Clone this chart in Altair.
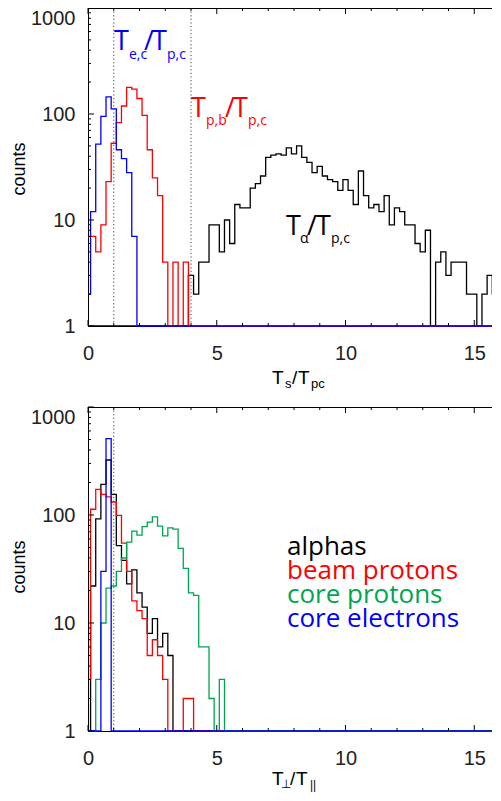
import altair as alt
import pandas as pd

# ---------------- data (histograms, bin width 0.2, bin centres from 0.0) ----------------
BIN_W = 0.2
N_BINS = 81  # centres 0.0 ... 16.0

# top panel: temperature ratios T_s / T_pc
te_start = 0.0
te_counts = [2, 12, 52, 95, 145, 112, 46, 38, 28, 7]                       # T_e,c / T_p,c
tpb_start = 0.0
tpb_counts = [7, 7, 5, 9, 23, 53, 83, 119, 178, 172, 140, 97, 46, 25, 17,
              4, 0, 4, 0, 4]                                                 # T_p,b / T_p,c
ta_start = 4.0
ta_counts = [3, 2, 4, 4, 9, 9, 5, 10, 6, 14,
             13, 13, 20, 22, 26, 39, 41, 42, 41, 48,
             42, 50, 39, 35, 28, 32, 26, 24, 23, 19,
             24, 19, 14, 29, 17, 13, 14, 12, 17, 9,
             13, 12, 9, 9, 6, 5, 8, 0, 4, 5,
             3, 4, 4, 4, 2, 2, 0, 2, 3, 2, 3]                                # T_alpha / T_p,c

# bottom panel: anisotropies T_perp / T_par
alph_start = 0.0
alph_counts = [0, 22, 92, 192, 323, 155, 52, 38, 23, 31, 19, 14, 8, 11, 6, 8, 5]
beam_start = 0.0
beam_counts = [3, 113, 173, 155, 147, 132, 99, 55, 30, 16, 13, 11, 5, 7, 5, 3,
               0, 0, 0, 2, 2]
corep_start = 0.0
corep_counts = [0, 0, 3, 10, 21, 22, 30, 40, 56, 71, 65, 78, 86, 96, 79, 64,
                76, 74, 49, 32, 19, 18, 6, 6, 2, 0, 3]
coree_start = 0.0
coree_counts = [0, 0, 0, 30, 510]

top_dotted = [1, 4]
bottom_dotted = [1]

x_labels = [0, 5, 10, 15]
x_minor = [1, 2, 3, 4, 6, 7, 8, 9, 11, 12, 13, 14]
y_labels = [1, 10, 100, 1000]
y_minor = [2, 3, 4, 5, 6, 7, 8, 9, 20, 30, 40, 50, 60, 70, 80, 90,
           200, 300, 400, 500, 600, 700, 800, 900]

legend_names = ["alphas", "beam protons", "core protons", "core electrons"]

BLACK, RED, GREEN, BLUE = "#000000", "#ff0000", "#00a550", "#0000ff"
AXFONT = "Liberation Sans"
ANNFONT = "Open Sans"

W = 412
H_TOP = 318
H_BOT = 324


def hist_frame(start, counts):
    xs = [round(i * BIN_W, 1) for i in range(N_BINS)]
    full = [0] * N_BINS
    i0 = int(round(start / BIN_W))
    for k, c in enumerate(counts):
        full[i0 + k] = c
    return pd.DataFrame({"x": xs, "count": full})


xscale = alt.Scale(domain=[0, 16], nice=False, zero=False)
yscale = alt.Scale(type="log", domain=[1, 1000], nice=False)

x_axis = alt.Axis(values=x_labels, format="d", title=None, ticks=False, grid=False,
                  domainColor="black", domainWidth=1, labelFont=AXFONT, labelFontSize=20,
                  labelColor="#222222", labelPadding=17, labelFlush=False, labelOverlap=False)
y_axis = alt.Axis(values=y_labels, format="d", title=None, ticks=False, grid=False,
                  domainColor="black", domainWidth=1, labelFont=AXFONT, labelFontSize=20,
                  labelColor="#222222", labelPadding=13, labelOverlap=False,
                  labelBaseline={"condition": {"test": "datum.value >= 999", "value": "top"},
                                 "value": "middle"})


def hist_layer(start, counts, color):
    return (alt.Chart(hist_frame(start, counts))
            .transform_calculate(c1="max(datum.count, 1)")
            .mark_line(interpolate="step", color=color, strokeWidth=1.3, clip=False)
            .encode(x=alt.X("x:Q", scale=xscale, axis=x_axis),
                    y=alt.Y("c1:Q", scale=yscale, axis=y_axis)))


def tick_layers(H):
    out = []
    for vals, ln in ((x_labels, 6), (x_minor, 3)):
        df = pd.DataFrame({"x": vals})
        out.append(alt.Chart(df).mark_rule(color="black", strokeWidth=1).encode(
            x=alt.X("x:Q", scale=xscale, axis=x_axis), y=alt.value(H), y2=alt.value(H - ln)))
        out.append(alt.Chart(df).mark_rule(color="black", strokeWidth=1).encode(
            x=alt.X("x:Q", scale=xscale, axis=x_axis), y=alt.value(0), y2=alt.value(ln)))
    for vals, ln in ((y_labels, 6), (y_minor, 3)):
        df = pd.DataFrame({"y": vals})
        out.append(alt.Chart(df).mark_rule(color="black", strokeWidth=1).encode(
            y=alt.Y("y:Q", scale=yscale, axis=y_axis), x=alt.value(0), x2=alt.value(ln)))
    # top frame line
    out.append(alt.Chart(pd.DataFrame({"a": [0]})).mark_rule(color="black", strokeWidth=1).encode(
        x=alt.value(0), x2=alt.value(W), y=alt.value(0.5)))
    return out


def dotted_layer(vals):
    return alt.Chart(pd.DataFrame({"x": vals})).mark_rule(
        color="#444444", strokeWidth=1, strokeDash=[1.2, 2.4]).encode(
        x=alt.X("x:Q", scale=xscale, axis=x_axis))


def text_layer(rows, font, angle=0, align="left", baseline="alphabetic"):
    df = pd.DataFrame(rows, columns=["t", "px", "py", "fs", "col"])
    return alt.Chart(df).mark_text(font=font, align=align, baseline=baseline, angle=angle).encode(
        x=alt.X("px:Q", scale=None, axis=None),
        y=alt.Y("py:Q", scale=None, axis=None),
        text="t:N",
        size=alt.Size("fs:Q", scale=None, legend=None),
        color=alt.Color("col:N", scale=None, legend=None))


# ---------------- annotations (pixel positions relative to each plot area) ----------------
top_ann = [
    ["T", 26, 42, 27, BLUE], ["e,c", 41, 51, 14, BLUE], ["/", 56, 42, 27, BLUE],
    ["T", 64, 42, 27, BLUE], ["p,c", 79, 51, 14, BLUE],
    ["T", 103, 109, 27, RED], ["p,b", 118, 117, 14, RED], ["/", 137, 109, 27, RED],
    ["T", 145, 109, 27, RED], ["p,c", 160, 117, 14, RED],
    ["T", 198, 227, 27, BLACK], ["\u03b1", 212, 235, 14, BLACK], ["/", 219, 227, 27, BLACK],
    ["T", 228, 227, 27, BLACK], ["p,c", 243, 235, 14, BLACK],
]
top_title = [
    ["T", 184, 376, 19, BLACK], ["s", 197, 380, 13, BLACK], ["/", 204, 376, 19, BLACK],
    ["T", 210, 376, 19, BLACK], ["pc", 223, 380, 13, BLACK],
]
bot_ann = [[name, 199, 148 + 24 * i, 26, col]
           for i, (name, col) in enumerate(zip(legend_names, [BLACK, RED, GREEN, BLUE]))]
bot_title = [
    ["T", 184, 378, 19, BLACK], ["\u22a5", 193, 381, 12, BLACK], ["/", 202, 378, 19, BLACK],
    ["T", 208, 378, 19, BLACK], ["||", 222, 382, 12, BLACK],
]
top_counts = [["counts", -68.5, 161, 18, BLACK]]
bot_counts = [["counts", -68.5, 160, 18, BLACK]]

top = alt.layer(
    hist_layer(ta_start, ta_counts, BLACK),
    hist_layer(tpb_start, tpb_counts, RED),
    hist_layer(te_start, te_counts, BLUE),
    dotted_layer(top_dotted),
    *tick_layers(H_TOP),
    text_layer(top_ann, ANNFONT),
    text_layer(top_title, AXFONT),
    text_layer(top_counts, AXFONT, angle=270, align="center", baseline="middle"),
).properties(width=W, height=H_TOP)

bottom = alt.layer(
    hist_layer(alph_start, alph_counts, BLACK),
    hist_layer(beam_start, beam_counts, RED),
    hist_layer(corep_start, corep_counts, GREEN),
    hist_layer(coree_start, coree_counts, BLUE),
    dotted_layer(bottom_dotted),
    *tick_layers(H_BOT),
    text_layer(bot_ann, ANNFONT),
    text_layer(bot_title, AXFONT),
    text_layer(bot_counts, AXFONT, angle=270, align="center", baseline="middle"),
).properties(width=W, height=H_BOT)

chart = alt.vconcat(
    top, bottom, spacing=14,
    padding={"left": 2, "top": -1, "right": -12, "bottom": 0},
).configure_view(stroke=None).configure(background="white")

chart.save("out.html", embed_options={"renderer": "svg", "actions": False})
